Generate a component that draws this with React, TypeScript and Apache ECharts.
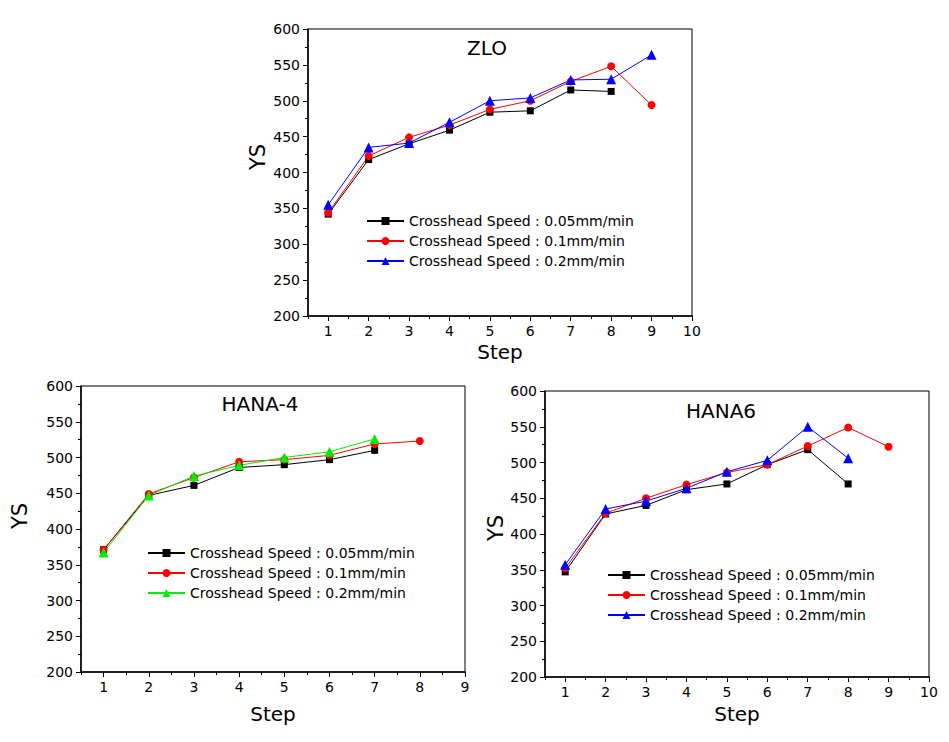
import React, { useEffect, useRef } from "react";
import * as echarts from "echarts";

// ---- Data (YS per step) ----
const speedLabels = [
  "Crosshead Speed : 0.05mm/min",
  "Crosshead Speed : 0.1mm/min",
  "Crosshead Speed : 0.2mm/min",
];

const zloTitle = "ZLO";
const zlo005 = [342, 418, 440, 459, 484, 486, 515, 513];
const zlo01 = [344, 423, 449, 466, 488, 500, 527, 548, 494];
const zlo02 = [355, 435, 441, 470, 500, 504, 529, 530, 564];

const hana4Title = "HANA-4";
const hana4005 = [371, 447, 461, 486, 490, 497, 510];
const hana401 = [371, 449, 472, 494, 497, 503, 519, 523];
const hana402 = [367, 447, 474, 489, 500, 508, 526];

const hana6Title = "HANA6";
const hana6005 = [347, 428, 440, 462, 470, 497, 518, 470];
const hana601 = [352, 429, 450, 469, 486, 497, 523, 549, 522];
const hana602 = [357, 435, 446, 464, 487, 503, 550, 506];

const yTicks = [200, 250, 300, 350, 400, 450, 500, 550, 600];
const xTicksLong = [1, 2, 3, 4, 5, 6, 7, 8, 9, 10];
const xTicksShort = [1, 2, 3, 4, 5, 6, 7, 8, 9];

const FONT = "DejaVu Sans";

const toPairs = (arr: number[]) => arr.map((v, i) => [i + 1, v]);

export default function App() {
  const ref = useRef<HTMLDivElement>(null);

  useEffect(() => {
    if (!ref.current) return;
    const chart = echarts.init(ref.current, null, { renderer: "svg" });

    const grids = [
      { left: 308, top: 29, width: 384, height: 287 },
      { left: 81, top: 386, width: 384, height: 286 },
      { left: 545, top: 391, width: 384, height: 286 },
    ];
    const xMax = [10, 9, 10];
    const xLabelTicks = [xTicksLong, xTicksShort, xTicksLong];
    const nameGaps = [26, 32, 27];

    const xAxes: any[] = [];
    const yAxes: any[] = [];
    grids.forEach((g, i) => {
      xAxes.push({
        type: "value",
        gridIndex: i,
        min: 0.5,
        max: xMax[i],
        interval: 0.5,
        name: "Step",
        nameLocation: "middle",
        nameGap: nameGaps[i],
        nameTextStyle: { fontFamily: FONT, fontSize: 20, color: "#000" },
        axisLine: { show: true, onZero: false, lineStyle: { color: "#000", width: 1.5 } },
        axisTick: { show: true, length: 5, customValues: xLabelTicks[i], lineStyle: { color: "#000" } },
        axisLabel: {
          show: true,
          customValues: xLabelTicks[i],
          margin: 8,
          fontFamily: FONT,
          fontSize: 14,
          color: "#000",
        },
        splitLine: { show: false },
      });
      // secondary axis for the half-step (minor) ticks
      xAxes.push({
        type: "value",
        gridIndex: i,
        position: "bottom",
        min: 0.5,
        max: xMax[i],
        interval: 0.5,
        axisLine: { show: false, onZero: false },
        axisTick: { show: true, length: 3, lineStyle: { color: "#000" } },
        axisLabel: { show: false },
        splitLine: { show: false },
      });
      yAxes.push({
        type: "value",
        gridIndex: i,
        min: 200,
        max: 600,
        interval: 50,
        axisLine: { show: true, lineStyle: { color: "#000", width: 1.5 } },
        axisTick: { show: true, length: 5, lineStyle: { color: "#000" } },
        minorTick: { show: true, splitNumber: 2, length: 3, lineStyle: { color: "#000" } },
        axisLabel: {
          show: true,
          margin: 8,
          fontFamily: FONT,
          fontSize: 14,
          color: "#000",
          customValues: yTicks,
        },
        splitLine: { show: false },
        minorSplitLine: { show: false },
      });
    });

    const datasets = [
      { title: zloTitle, lines: [zlo005, zlo01, zlo02], colors: ["#000000", "#ff0000", "#0000ff"] },
      { title: hana4Title, lines: [hana4005, hana401, hana402], colors: ["#000000", "#ff0000", "#00ee00"] },
      { title: hana6Title, lines: [hana6005, hana601, hana602], colors: ["#000000", "#ff0000", "#0000ff"] },
    ];
    const symbols = ["rect", "circle", "triangle"];
    const symbolSizes = [7, 8, 10];

    const series: any[] = [];
    const legends: any[] = [];
    const legendPos = [
      { left: 366, top: 214 },
      { left: 147, top: 546 },
      { left: 607, top: 568 },
    ];
    datasets.forEach((d, gi) => {
      const names: string[] = [];
      d.lines.forEach((arr, si) => {
        const name = d.title + "|" + speedLabels[si];
        names.push(name);
        series.push({
          type: "line",
          name,
          xAxisIndex: gi * 2,
          yAxisIndex: gi,
          data: toPairs(arr),
          symbol: symbols[si],
          symbolSize: symbolSizes[si],
          lineStyle: { color: d.colors[si], width: 1 },
          itemStyle: { color: d.colors[si] },
          emphasis: { disabled: true },
        });
      });
      legends.push({
        data: names,
        orient: "vertical",
        left: legendPos[gi].left,
        top: legendPos[gi].top,
        padding: 0,
        itemWidth: 37,
        itemHeight: 10,
        itemGap: 6,
        selectedMode: false,
        formatter: (n: string) => n.split("|")[1],
        textStyle: { fontFamily: FONT, fontSize: 14, color: "#000", lineHeight: 14 },
      });
    });

    const titleTexts = [
      { text: zloTitle, x: 487, y: 48 },
      { text: hana4Title, x: 260, y: 404 },
      { text: hana6Title, x: 721, y: 411 },
    ];
    const ysTexts = [
      { x: 258, y: 157 },
      { x: 20, y: 516 },
      { x: 496, y: 528 },
    ];

    const graphic: any[] = [];
    titleTexts.forEach((t) =>
      graphic.push({
        type: "text",
        x: t.x,
        y: t.y,
        style: {
          text: t.text,
          fontFamily: FONT,
          fontSize: 20,
          fill: "#000",
          align: "center",
          verticalAlign: "middle",
        },
      })
    );
    ysTexts.forEach((t) =>
      graphic.push({
        type: "text",
        x: t.x,
        y: t.y,
        rotation: Math.PI / 2,
        style: {
          text: "YS",
          fontFamily: FONT,
          fontSize: 21,
          fill: "#000",
          align: "center",
          verticalAlign: "middle",
        },
      })
    );

    chart.setOption({
      animation: false,
      backgroundColor: "#ffffff",
      grid: grids.map((g) => ({ ...g, show: true, borderColor: "#000", borderWidth: 1, backgroundColor: "transparent" })),
      xAxis: xAxes,
      yAxis: yAxes,
      legend: legends,
      series,
      graphic,
    });

    return () => chart.dispose();
  }, []);

  return (
    <div
      ref={ref}
      style={{ position: "absolute", left: 0, top: 0, width: 949, height: 742, background: "#fff" }}
    />
  );
}
